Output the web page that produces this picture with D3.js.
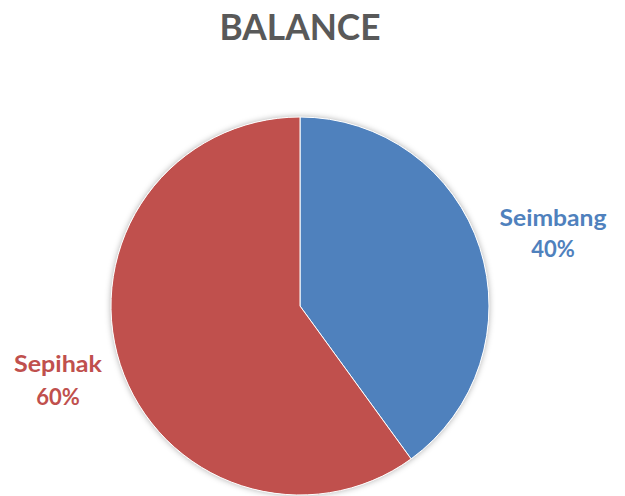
<!DOCTYPE html>
<html><head><meta charset="utf-8">
<script src="https://cdn.jsdelivr.net/npm/d3@7"></script>
<style>body{margin:0;background:#fff}svg{display:block}</style>
</head><body>
<script>
const title = "BALANCE";
const categories = ["Seimbang", "Sepihak"];
const values = [40, 60];
const percentLabels = ["40%", "60%"];
const colors = ["#4F81BD", "#C0504D"];

const W = 625, H = 496, cx = 300, cy = 306, R = 189;
const svg = d3.select("body").append("svg").attr("width", W).attr("height", H);

const defs = svg.append("defs");
const f = defs.append("filter").attr("id", "sh").attr("x", "-20%").attr("y", "-20%").attr("width", "140%").attr("height", "140%");
f.append("feDropShadow").attr("dx", 0).attr("dy", 0).attr("stdDeviation", 3).attr("flood-color", "#000").attr("flood-opacity", 0.35);

svg.append("text").attr("x", 300).attr("y", 40).attr("text-anchor", "middle")
  .attr("font-family", "Lato, 'Open Sans', sans-serif").attr("font-weight", "bold")
  .attr("font-size", 36).attr("fill", "#595959")
  .attr("textLength", 161).attr("lengthAdjust", "spacingAndGlyphs").text(title);

const pie = d3.pie().sort(null).value(d => d)(values);
const arc = d3.arc().innerRadius(0).outerRadius(R);
const g = svg.append("g").attr("transform", `translate(${cx},${cy})`);
g.append("circle").attr("r", R).attr("fill", "#fff").attr("filter", "url(#sh)");
g.selectAll("path").data(pie).join("path").attr("d", arc)
  .attr("fill", (d, i) => colors[i]).attr("stroke", "#fff").attr("stroke-width", 1);

const labelPos = [[553, 226, 257, 107], [58, 372, 405, 88]];
categories.forEach((c, i) => {
  const [x, y1, y2, len] = labelPos[i];
  const t = svg.append("text").attr("text-anchor", "middle")
    .attr("font-family", "Lato, 'Open Sans', sans-serif").attr("font-weight", "bold")
    .attr("font-size", 22).attr("fill", colors[i]);
  t.append("tspan").attr("x", x).attr("y", y1).attr("textLength", len).attr("lengthAdjust", "spacingAndGlyphs").text(c);
  t.append("tspan").attr("x", x).attr("y", y2).text(percentLabels[i]);
});
</script>
</body></html>
